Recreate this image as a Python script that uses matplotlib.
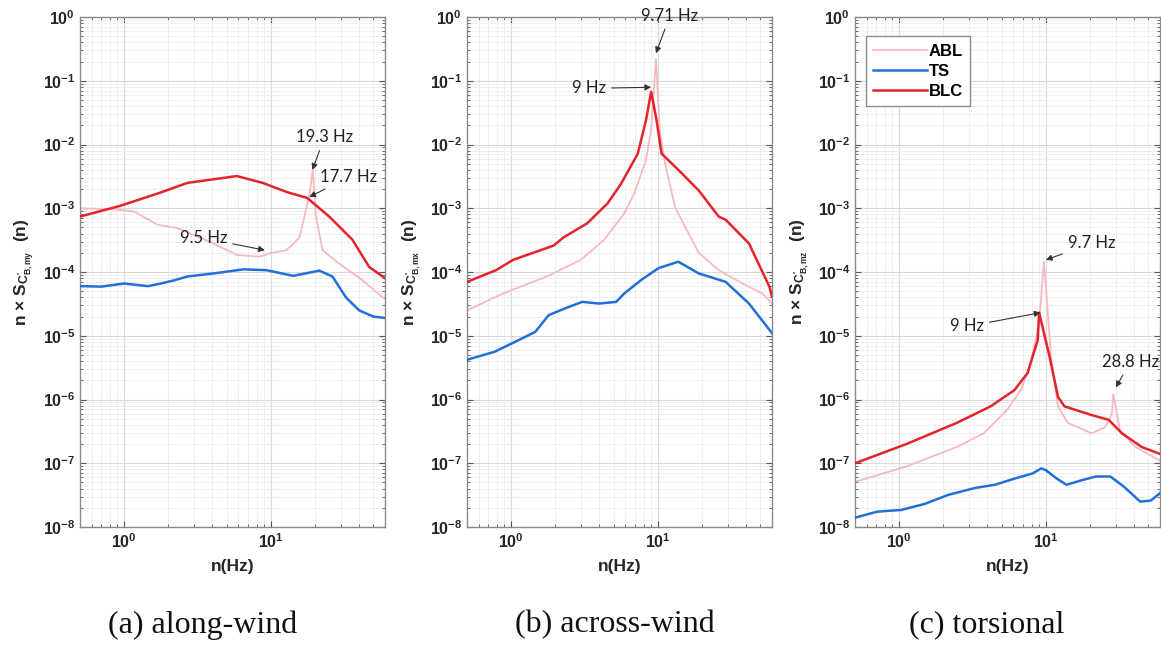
import matplotlib
matplotlib.use("Agg")
import matplotlib.pyplot as plt
import numpy as np

plt.rcParams['font.family'] = ['Liberation Sans', 'DejaVu Sans']
plt.rcParams['font.weight'] = 'bold'
plt.rcParams['mathtext.default'] = 'regular'

# ---------------- data ----------------
# (a) along-wind
a_abl_f = [0.5, 0.86, 1.17, 1.69, 2.3, 4.08, 5.86, 8.4, 9.5, 9.8, 12.8, 15.7, 18.4, 19.3, 20.3, 22.5, 29, 42, 57, 60]
a_abl_v = [1.0e-3, 9.6e-4, 8.9e-4, 5.5e-4, 4.9e-4, 2.8e-4, 1.85e-4, 1.74e-4, 1.9e-4, 1.96e-4, 2.2e-4, 3.5e-4,
           1.7e-3, 4.0e-3, 7.4e-4, 2.2e-4, 1.37e-4, 7.5e-5, 4.1e-5, 3.8e-5]
a_ts_f = [0.5, 0.7, 1.0, 1.45, 1.78, 2.19, 2.7, 4.08, 6.5, 9.3, 14.2, 21.4, 26.3, 32.5, 40, 50, 60]
a_ts_v = [6.0e-5, 5.9e-5, 6.6e-5, 6.0e-5, 6.6e-5, 7.4e-5, 8.5e-5, 9.5e-5, 1.1e-4, 1.07e-4, 8.7e-5, 1.05e-4,
          8.5e-5, 4.0e-5, 2.5e-5, 2.0e-5, 1.9e-5]
a_blc_f = [0.5, 0.95, 1.69, 2.7, 5.86, 8.8, 12.8, 17.7, 25, 36, 46.8, 60]
a_blc_v = [7.4e-4, 1.1e-3, 1.7e-3, 2.5e-3, 3.2e-3, 2.5e-3, 1.8e-3, 1.45e-3, 7.4e-4, 3.2e-4, 1.2e-4, 8.0e-5]

# (b) across-wind
b_abl_f = [0.5, 0.88, 1.75, 2.98, 4.3, 5.9, 6.9, 8.3, 9.0, 9.71, 10.3, 11.2, 13.1, 14.5, 19, 26, 37.7, 51.6, 60]
b_abl_v = [2.5e-5, 4.6e-5, 8.5e-5, 1.55e-4, 3.2e-4, 8.3e-4, 1.7e-3, 5.7e-3, 1.7e-2, 2.2e-1, 1.7e-2, 5.0e-3,
           1.05e-3, 6.6e-4, 2.0e-4, 1.07e-4, 6.6e-5, 4.6e-5, 3.2e-5]
b_ts_f = [0.5, 0.77, 1.12, 1.46, 1.8, 2.34, 3.05, 3.98, 5.2, 5.9, 7.7, 10.1, 13.8, 19, 29, 41.8, 60]
b_ts_v = [4.2e-6, 5.6e-6, 8.5e-6, 1.15e-5, 2.1e-5, 2.7e-5, 3.4e-5, 3.2e-5, 3.4e-5, 4.6e-5, 7.5e-5, 1.15e-4,
          1.45e-4, 9.5e-5, 7.0e-5, 3.2e-5, 1.1e-5]
b_blc_f = [0.5, 0.79, 1.03, 1.95, 2.28, 3.3, 4.55, 5.6, 7.3, 8.3, 9.0, 9.8, 10.6, 13.8, 19, 26, 29, 41.8, 57.6, 60]
b_blc_v = [7.0e-5, 1.07e-4, 1.55e-4, 2.6e-4, 3.5e-4, 5.8e-4, 1.2e-3, 2.4e-3, 7.2e-3, 2.4e-2, 6.7e-2, 2.4e-2,
           7.2e-3, 4.0e-3, 1.9e-3, 7.4e-4, 6.6e-4, 2.8e-4, 5.9e-5, 4.1e-5]

# (c) torsional
c_abl_f = [0.5, 1.12, 2.47, 3.77, 5.46, 6.75, 7.9, 9.0, 9.7, 10.85, 12.1, 14.1, 20.5, 25.4, 28.2, 28.8, 32, 40.8, 60]
c_abl_v = [5.1e-8, 8.9e-8, 1.8e-7, 2.95e-7, 6.9e-7, 1.4e-6, 3.7e-6, 1.6e-5, 1.45e-4, 4.7e-6, 7.8e-7, 4.3e-7,
           2.95e-7, 3.7e-7, 6.0e-7, 1.2e-6, 3.3e-7, 1.8e-7, 1.1e-7]
c_ts_f = [0.5, 0.71, 1.03, 1.49, 2.17, 3.3, 4.5, 6.2, 8.1, 9.3, 10, 11.8, 13.8, 18, 22, 27.5, 34, 44, 52, 60]
c_ts_v = [1.4e-8, 1.74e-8, 1.85e-8, 2.3e-8, 3.2e-8, 4.1e-8, 4.6e-8, 5.8e-8, 6.9e-8, 8.3e-8, 7.8e-8, 5.8e-8,
          4.6e-8, 5.5e-8, 6.2e-8, 6.2e-8, 4.3e-8, 2.5e-8, 2.6e-8, 3.4e-8]
c_blc_f = [0.5, 1.12, 2.47, 4.2, 6.1, 7.5, 8.8, 9.0, 10.6, 12.1, 13.4, 20.5, 26.8, 33, 45, 60]
c_blc_v = [1.0e-7, 2.0e-7, 4.3e-7, 7.8e-7, 1.4e-6, 2.6e-6, 8.5e-6, 2.3e-5, 4.7e-6, 1.1e-6, 7.8e-7, 5.7e-7,
           4.8e-7, 2.95e-7, 1.8e-7, 1.4e-7]

series_labels = ['ABL', 'TS', 'BLC']
panel_captions = ['(a) along-wind', '(b) across-wind', '(c) torsional']
ylabels = [r'n $\times$ S$_{C^{\prime}_{B,my}}$  (n)',
           r'n $\times$ S$_{C^{\prime}_{B,mx}}$  (n)',
           r'n $\times$ S$_{C^{\prime}_{B,mz}}$  (n)']

# annotations: (text, peak f, peak value, text f, text value)
annots = [
    [('19.3 Hz', 19.2, 4.0e-3, 23.2, 1.3e-2),
     ('17.7 Hz', 18.3, 1.5e-3, 34.0, 3.1e-3),
     ('9.5 Hz', 9.1, 2.2e-4, 3.47, 3.4e-4)],
    [('9.71 Hz', 9.7, 0.27, 12.1, 1.05),
     ('9 Hz', 9.0, 0.079, 3.4, 0.076)],
    [('9.7 Hz', 10.0, 1.55e-4, 20.5, 2.8e-4),
     ('9 Hz', 9.2, 2.3e-5, 2.9, 1.4e-5),
     ('28.8 Hz', 30.0, 1.55e-6, 37.8, 3.9e-6)],
]

data = [
    ((a_abl_f, a_abl_v), (a_ts_f, a_ts_v), (a_blc_f, a_blc_v)),
    ((b_abl_f, b_abl_v), (b_ts_f, b_ts_v), (b_blc_f, b_blc_v)),
    ((c_abl_f, c_abl_v), (c_ts_f, c_ts_v), (c_blc_f, c_blc_v)),
]

colors = ['#f7b9c0', '#1f70d8', '#e4232b']
widths = [1.3, 1.8, 1.8]

W, H = 1161, 646
fig = plt.figure(figsize=(W / 100, H / 100), dpi=100)
lefts = [80, 467, 855]
caption_x = [203, 615, 987]
top, bottom = 17, 527
width = 305

for i in range(3):
    ax = fig.add_axes([lefts[i] / W, 1 - bottom / H, width / W, (bottom - top) / H])
    ax.set_xscale('log')
    ax.set_yscale('log')
    handles = []
    for j in range(3):
        f, v = data[i][j]
        h, = ax.plot(f, v, color=colors[j], lw=widths[j], label=series_labels[j],
                     zorder=3 if j != 0 else 2)
        handles.append(h)
    ax.set_xlim(0.5, 60)
    ax.set_ylim(1e-8, 1)
    ax.set_yticks([10.0 ** k for k in range(-8, 1)])
    ax.grid(True, which='major', color='#d9d9d9', lw=0.8)
    ax.grid(True, which='minor', color='#ececec', lw=0.6)
    ax.set_axisbelow(True)
    ax.tick_params(which='both', direction='in', top=True, right=True, colors='#555555',
                   labelcolor='#262626', labelsize=11.5)
    ax.tick_params(which='major', length=4)
    ax.tick_params(which='minor', length=2)
    ax.yaxis.set_minor_locator(matplotlib.ticker.LogLocator(base=10, subs=np.arange(2, 10), numticks=20))
    ax.yaxis.set_minor_formatter(matplotlib.ticker.NullFormatter())
    for s in ax.spines.values():
        s.set_color('#8a8a8a')
        s.set_linewidth(1.0)
    ax.set_xlabel('n(Hz)', fontsize=12.5, fontweight='bold', color='#262626', labelpad=6)
    ax.set_ylabel(ylabels[i], fontsize=12.5, fontweight='bold', color='#262626', labelpad=4)

    for (txt, pf, pv, tf, tv) in annots[i]:
        ax.annotate(txt, xy=(pf, pv), xytext=(tf, tv), textcoords='data',
                    ha='center', va='center', fontsize=12, fontweight='normal',
                    family=['Lato', 'DejaVu Sans'], color='#222222',
                    arrowprops=dict(arrowstyle='-|>', color='#333333', lw=0.8,
                                    mutation_scale=9, shrinkA=2, shrinkB=0),
                    annotation_clip=False, zorder=5)

    if i == 2:
        leg = ax.legend(handles=handles, loc='upper left', bbox_to_anchor=(0.036, 0.962),
                        borderaxespad=0, fancybox=False, framealpha=1, edgecolor='#8a8a8a',
                        prop={'weight': 'bold', 'size': 12}, handlelength=3.2,
                        handletextpad=0.1, borderpad=0.45, labelspacing=0.3)
        leg.get_frame().set_linewidth(1.0)

    fig.text(caption_x[i] / W, 1 - 625 / H, panel_captions[i],
             ha='center', va='center', fontsize=23, fontweight='normal',
             family=['Liberation Serif', 'DejaVu Serif'], color='#111111')

fig.savefig('out.png', dpi=100)
